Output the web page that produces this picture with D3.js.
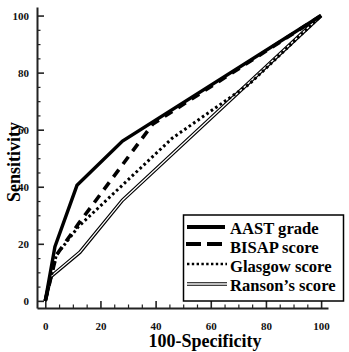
<!DOCTYPE html>
<html><head><meta charset="utf-8">
<script src="https://cdn.jsdelivr.net/npm/d3@7"></script>
<style>body{margin:0;background:#fff}svg{display:block}
text{font-family:"Liberation Serif","Times New Roman",Times,serif;font-weight:bold}</style>
</head><body>
<svg id="c" width="349" height="352"></svg>
<script>
// Data (100-Specificity vs Sensitivity)
const aastX = [0, 3.5, 11.5, 28, 100];
const aastY = [0, 19, 40.5, 56, 100];
const bisapX = [0, 4, 12, 39, 100];
const bisapY = [0, 16, 27, 62, 100];
const glasgowX = [0, 4, 12, 46, 74, 100];
const glasgowY = [0, 16, 26, 57, 76, 100];
const ransonX = [0, 2, 12.5, 28, 100];
const ransonY = [0, 8.5, 17, 35.3, 100];
const seriesNames = ["AAST grade", "BISAP score", "Glasgow score", "Ranson\u2019s score"];
const tickValues = [0, 20, 40, 60, 80, 100];
const minorTickValues = d3.range(0, 101, 5).filter(v => v % 20 !== 0);

const svg = d3.select("#c");
const x = d3.scaleLinear().domain([-3, 102.5]).range([37, 328]);
const y = d3.scaleLinear().domain([-2.5, 103]).range([308, 7]);

const g = svg.append("g");
const xMinor = d3.axisBottom(x).tickValues(minorTickValues).tickSize(-3.5).tickFormat("");
const yMinor = d3.axisLeft(y).tickValues(minorTickValues).tickSize(-3.5).tickFormat("");
g.append("g").attr("transform", `translate(0,${y(-2.5)})`).call(xMinor)
  .call(s => s.select(".domain").remove()).selectAll("line").attr("stroke", "#222").attr("stroke-width", 1.2);
g.append("g").attr("transform", `translate(${x(-3)},0)`).call(yMinor)
  .call(s => s.select(".domain").remove()).selectAll("line").attr("stroke", "#222").attr("stroke-width", 1.2);

const xAxis = d3.axisBottom(x).tickValues(tickValues).tickSize(-7).tickSizeOuter(0).tickPadding(14);
const yAxis = d3.axisLeft(y).tickValues(tickValues).tickSize(-7).tickSizeOuter(0).tickPadding(14);
const gx = g.append("g").attr("transform", `translate(0,${y(-2.5)})`).call(xAxis);
const gy = g.append("g").attr("transform", `translate(${x(-3)},0)`).call(yAxis);
[gx, gy].forEach(a => {
  a.select(".domain").attr("stroke", "#222").attr("stroke-width", 2);
  a.selectAll(".tick line").attr("stroke", "#222").attr("stroke-width", 1.6);
  a.selectAll("text").attr("font-family", null).attr("font-size", null).style("font-size", "11px").attr("fill", "#111");
});
gy.selectAll("text").attr("dx", 6);

const line = d3.line().x(d => x(d[0])).y(d => y(d[1]));
const zip = (a, b) => a.map((v, i) => [v, b[i]]);
const lg = svg.append("g").attr("fill", "none").attr("stroke-linejoin", "miter");
lg.append("path").datum(zip(ransonX, ransonY)).attr("d", line).attr("stroke", "#000").attr("stroke-width", 3.6);
lg.append("path").datum(zip(ransonX, ransonY)).attr("d", line).attr("stroke", "#fff").attr("stroke-width", 1.3);
lg.append("path").datum(zip(glasgowX, glasgowY)).attr("d", line).attr("stroke", "#000").attr("stroke-width", 3).attr("stroke-dasharray", "2.6,2.8");
lg.append("path").datum(zip(bisapX, bisapY)).attr("d", line).attr("stroke", "#000").attr("stroke-width", 3.6).attr("stroke-dasharray", "9,7");
lg.append("path").datum(zip(aastX, aastY)).attr("d", line).attr("stroke", "#000").attr("stroke-width", 3.4);

svg.append("text").attr("x", 205).attr("y", 347).attr("text-anchor", "middle")
  .style("font-size", "18px").text("100-Specificity");
svg.append("text").attr("transform", "translate(20,162) rotate(-90)").attr("text-anchor", "middle")
  .style("font-size", "18px").text("Sensitivity");

const lgd = svg.append("g");
lgd.append("rect").attr("x", 183.5).attr("y", 215).attr("width", 160).attr("height", 86)
  .attr("fill", "#fff").attr("stroke", "#000").attr("stroke-width", 1.5);
const rows = [
  {base: 234, sy: 227},
  {base: 253, sy: 244},
  {base: 272, sy: 264},
  {base: 291, sy: 284}
];
const lx0 = 187, lx1 = 225;
lgd.append("line").attr("x1", lx0).attr("x2", lx1).attr("y1", rows[0].sy).attr("y2", rows[0].sy).attr("stroke", "#000").attr("stroke-width", 4);
lgd.append("line").attr("x1", lx0 - 1).attr("x2", lx1).attr("y1", rows[1].sy).attr("y2", rows[1].sy).attr("stroke", "#000").attr("stroke-width", 4).attr("stroke-dasharray", "15,6");
lgd.append("line").attr("x1", lx0).attr("x2", lx1 + 2).attr("y1", rows[2].sy).attr("y2", rows[2].sy).attr("stroke", "#000").attr("stroke-width", 2.6).attr("stroke-dasharray", "2.4,2.4");
lgd.append("line").attr("x1", lx0).attr("x2", lx1 + 2).attr("y1", rows[3].sy).attr("y2", rows[3].sy).attr("stroke", "#000").attr("stroke-width", 3.6);
lgd.append("line").attr("x1", lx0 - 1).attr("x2", lx1 + 3).attr("y1", rows[3].sy).attr("y2", rows[3].sy).attr("stroke", "#fff").attr("stroke-width", 1.3);
lgd.selectAll("text.lab").data(seriesNames).join("text").attr("class", "lab")
  .attr("x", 230).attr("y", (d, i) => rows[i].base)
  .style("font-size", "16.6px").text(d => d);
</script>
</body></html>
